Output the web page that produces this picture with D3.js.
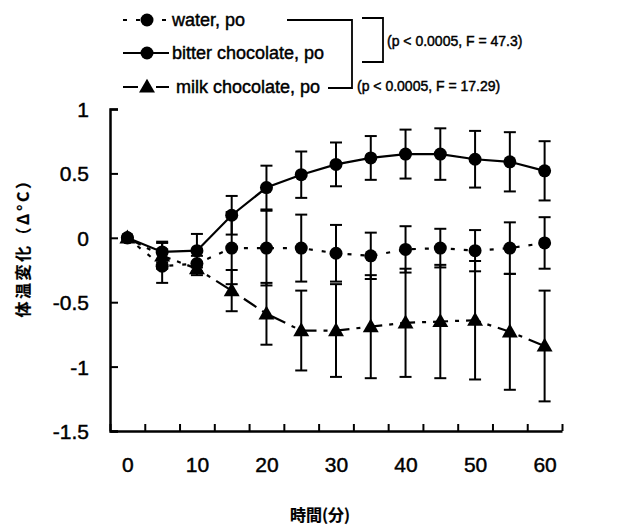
<!DOCTYPE html>
<html><head><meta charset="utf-8">
<script src="https://cdn.jsdelivr.net/npm/d3@7"></script>
<style>
html,body{margin:0;padding:0;background:#fff;}
svg{display:block;}
text{font-family:"Liberation Sans",Arial,sans-serif;fill:#000;stroke:#000;stroke-width:0.45px;}
.cjk{font-family:"Noto Sans CJK JP",sans-serif;font-weight:bold;stroke-width:0.2px;}
</style></head>
<body>
<svg id="c" width="634" height="525"></svg>
<script>
const times = [0,5,10,15,20,25,30,35,40,45,50,55,60];
const waterMean = [0,-0.22,-0.20,-0.08,-0.08,-0.08,-0.12,-0.14,-0.09,-0.08,-0.10,-0.08,-0.04];
const waterSD   = [0,0.13,0.06,0.28,0.29,0.26,0.22,0.18,0.18,0.15,0.16,0.20,0.20];
const bitterMean = [0,-0.11,-0.10,0.175,0.39,0.49,0.57,0.62,0.65,0.65,0.61,0.59,0.52];
const bitterSD   = [0,0.08,0.13,0.15,0.17,0.18,0.17,0.17,0.19,0.20,0.22,0.23,0.23];
const milkMean = [0,-0.14,-0.24,-0.41,-0.59,-0.72,-0.72,-0.69,-0.66,-0.65,-0.64,-0.73,-0.84];
const milkSD   = [0,0.10,0.05,0.16,0.24,0.31,0.36,0.40,0.42,0.44,0.46,0.45,0.43];
const yTicks = [1,0.5,0,-0.5,-1,-1.5];
const xLabels = [0,10,20,30,40,50,60];
const legendNames = ["water, po","bitter chocolate, po","milk chocolate, po"];
const statTexts = ["(p < 0.0005, F = 47.3)","(p < 0.0005, F = 17.29)"];
const yTitle = "体温変化（Δ°C）";
const xTitle = "時間(分)";

const svg = d3.select("#c");
const x = d3.scaleLinear().domain([-2.5,62.5]).range([110,562]);
const y = d3.scaleLinear().domain([-1.5,1]).range([431,109]);

// axes
const yAxis = d3.axisLeft(y).tickValues(yTicks).tickSize(-8).tickPadding(21)
  .tickFormat(d=>d3.format("")(d).replace("−","-"));
const gy = svg.append("g").attr("transform","translate(110,0)").call(yAxis);
gy.select(".domain").attr("stroke","#000").attr("stroke-width",2.5);
gy.selectAll(".tick line").attr("stroke","#000").attr("stroke-width",2);
gy.selectAll(".tick text").style("font-size","21px").attr("font-family","Liberation Sans, Arial, sans-serif").attr("dy","0.36em");

const boundaries = d3.range(0,14).map(i=>-2.5+5*i);
const xAxis = d3.axisBottom(x).tickValues(boundaries).tickSize(-7).tickFormat("").tickSizeOuter(0);
const gx = svg.append("g").attr("transform","translate(0,431)").call(xAxis);
gx.select(".domain").attr("stroke","#000").attr("stroke-width",2.5);
gx.selectAll(".tick line").attr("stroke","#000").attr("stroke-width",2);
const gxl = svg.append("g").attr("transform","translate(0,431)")
  .call(d3.axisBottom(x).tickValues(xLabels).tickSize(0).tickPadding(26));
gxl.select(".domain").remove();
gxl.selectAll(".tick text").style("font-size","21px").attr("font-family","Liberation Sans, Arial, sans-serif");

// titles
svg.append("text").attr("class","cjk").attr("transform","translate(29,244) rotate(-90)")
  .attr("text-anchor","middle").style("font-size","16px").style("letter-spacing","2.5px").text(yTitle);
svg.append("text").attr("class","cjk").attr("x",320).attr("y",521)
  .attr("text-anchor","middle").style("font-size","16px").text(xTitle);

const series = [
  {name:legendNames[0], mean:waterMean, sd:waterSD, dash:"4,9", marker:"circle"},
  {name:legendNames[2], mean:milkMean, sd:milkSD, dash:"15,7,4,7", marker:"triangle"},
  {name:legendNames[1], mean:bitterMean, sd:bitterSD, dash:null, marker:"circle"}
];
const line = d3.line().x((d,i)=>x(times[i])).y(d=>y(d));
const tri = d3.symbol().type(d3.symbolTriangle).size(110);

series.forEach(s=>{
  const g = svg.append("g");
  times.forEach((t,i)=>{
    if (s.sd[i] <= 0) return;
    const cx = x(t), y1 = y(s.mean[i]+s.sd[i]), y2 = y(s.mean[i]-s.sd[i]);
    g.append("line").attr("x1",cx).attr("x2",cx).attr("y1",y1).attr("y2",y2)
      .attr("stroke","#000").attr("stroke-width",2);
    [y1,y2].forEach(yy=>g.append("line").attr("x1",cx-6).attr("x2",cx+6).attr("y1",yy).attr("y2",yy)
      .attr("stroke","#000").attr("stroke-width",2));
  });
  g.append("path").attr("d",line(s.mean)).attr("fill","none").attr("stroke","#000")
    .attr("stroke-width",2.2).attr("stroke-dasharray",s.dash);
  times.forEach((t,i)=>{
    if (s.marker==="circle") g.append("circle").attr("cx",x(t)).attr("cy",y(s.mean[i])).attr("r",6.5).attr("fill","#000");
    else g.append("path").attr("d",tri).attr("transform",`translate(${x(t)},${y(s.mean[i])+1})`).attr("fill","#000");
  });
});

// legend
const leg = [
  {y:20, dash:"4,9", marker:"circle", text:legendNames[0], tx:172},
  {y:53, dash:null, marker:"circle", text:legendNames[1], tx:172},
  {y:87, dash:"15,7,4,7", marker:"triangle", text:legendNames[2], tx:176}
];
leg.forEach(l=>{
  svg.append("line").attr("x1",123).attr("x2",169).attr("y1",l.y).attr("y2",l.y)
    .attr("stroke","#000").attr("stroke-width",2.2).attr("stroke-dasharray",l.dash);
  if (l.marker==="circle") svg.append("circle").attr("cx",147).attr("cy",l.y).attr("r",6.5).attr("fill","#000");
  else svg.append("path").attr("d",tri).attr("transform",`translate(147,${l.y+1})`).attr("fill","#000");
  svg.append("text").attr("x",l.tx).attr("y",l.y+6).style("font-size","18px").text(l.text);
});
// brackets
svg.append("path").attr("d","M287,20H352V88H328").attr("fill","none").attr("stroke","#000").attr("stroke-width",1.8);
svg.append("path").attr("d","M362,18H383V62H362").attr("fill","none").attr("stroke","#000").attr("stroke-width",1.8);
svg.append("text").attr("x",387).attr("y",46).style("font-size","14px").text(statTexts[0]);
svg.append("text").attr("x",357).attr("y",91).style("font-size","14px").text(statTexts[1]);
</script>
</body></html>
